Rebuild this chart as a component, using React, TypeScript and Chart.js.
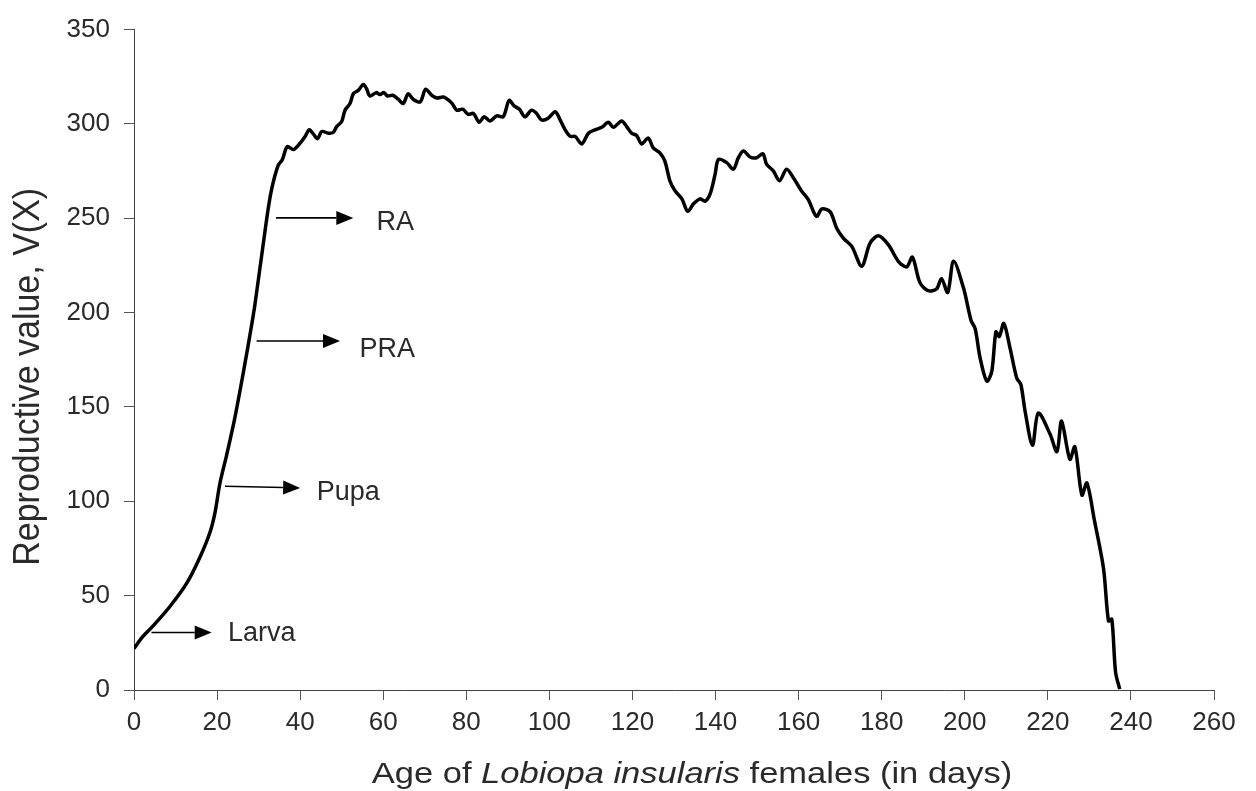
import React, { useEffect, useRef } from 'react';
import { Chart, registerables } from 'chart.js';

Chart.register(...registerables);

// ---- data ----
const AGES = [
  0, 2, 4.6, 8.7, 12.7, 15.9, 18.3, 19.5, 20.7, 22.3, 24.3, 26.3, 27.9, 29.1, 31.9, 33.1, 34.7, 35.7, 36.9, 38.4,
  40.0, 41.2, 42.2, 43.2, 44.2, 45.2, 46.8, 48.0, 48.8, 50.0, 50.8, 52.0, 52.8, 54.0, 55.2, 56.0, 56.8, 58.3, 59.2, 60.2,
  61.0, 62.3, 63.6, 64.8, 66.0, 67.2, 68.9, 70.2, 71.7, 72.9, 74.5, 75.5, 76.6, 77.7, 79.1, 80.5, 81.7, 83.1, 84.3, 85.7,
  87.3, 88.9, 90.3, 91.5, 92.8, 94.1, 95.7, 96.9, 98.1, 99.7, 101.4, 102.6, 103.8, 105.0, 106.2, 107.8, 109.4, 111.0, 112.6, 114.2,
  115.4, 117.4, 118.6, 119.8, 121.0, 122.2, 123.8, 125.0, 126.6, 127.8, 129.0, 130.2, 131.9, 133.3, 134.7, 136.3, 137.5, 138.7, 139.9, 140.7,
  142.7, 144.3, 145.5, 146.7, 148.3, 149.9, 151.4, 152.3, 153.9, 155.4, 157.1, 158.7, 160.7, 162.3, 164.3, 165.6, 167.6, 169.2, 170.8, 172.8,
  175.2, 177.2, 179.2, 181.6, 184.0, 186.0, 187.4, 189.2, 191.2, 193.2, 194.4, 195.9, 197.3, 199.7, 201.5, 202.5, 203.7, 205.3, 206.5, 207.5,
  208.3, 209.4, 210.9, 212.5, 213.5, 214.5, 216.3, 217.7, 220.5, 222.2, 223.3, 225.3, 226.5, 228.2, 229.4, 231.2, 233.4, 234.6, 235.4, 236.3,
  237.3,
];

const VALUES = [
  22, 28, 34, 44.4, 56.6, 70.5, 83.6, 94, 109.7, 124.5, 144.5, 168, 188, 204, 249, 265, 278, 281, 288, 286.4,
  289.8, 293.4, 296.9, 294.6, 292.2, 296, 295.1, 295.6, 298.6, 301.3, 307.3, 310.8, 316, 317.8, 320.9, 318.6, 314.8, 316.6, 315.6, 316.6,
  314.8, 315.2, 313.1, 310.8, 316, 313.1, 311.7, 318.4, 315.2, 313.8, 314.3, 313, 310.8, 307.3, 307.8, 305.1, 305.6, 300.9, 303.8, 301.6,
  304.3, 303.8, 312.5, 309.6, 307.8, 303.8, 307.3, 305.6, 302.1, 303, 306.5, 302.1, 296.9, 293.4, 293.4, 289.4, 295.1, 296.9, 298.2, 300.9,
  298.2, 301.6, 298.6, 295.1, 293.9, 289.4, 292.5, 287.3, 284.7, 280.3, 269.9, 264.7, 260.3, 253.7, 257.7, 260.3, 259.1, 262.9, 273.4, 281.2,
  279.5, 276, 282.1, 285.6, 282.5, 282.1, 284.2, 278.6, 275.1, 269.9, 276, 271.6, 264.5, 260, 251, 255, 253.4, 244.6, 239.4, 235.1,
  224.6, 236.8, 240.7, 236, 227.2, 224.2, 229.4, 215.9, 211.6, 212.5, 218, 210.7, 227.2, 213, 196, 191.5, 175.9, 163.7, 168.9, 189.8,
  187.3, 194.3, 181.2, 165.4, 161.9, 148, 129.7, 146.8, 135.8, 126.3, 142.5, 122.3, 128.9, 103.3, 109.7, 90, 64.4, 36.6, 37.5, 9.5,
  0.5,
];

const X_TICKS = [0, 20, 40, 60, 80, 100, 120, 140, 160, 180, 200, 220, 240, 260];
const Y_TICKS = [0, 50, 100, 150, 200, 250, 300, 350];

const STAGE_LABELS = ['Larva', 'Pupa', 'PRA', 'RA'];
const STAGE_ARROW_FROM_X = [4.2, 21.9, 29.5, 34.2];
const STAGE_ARROW_FROM_Y = [30.5, 108, 185, 250.2];
const STAGE_ARROW_TO_X = [18.7, 40.0, 49.6, 52.8];
const STAGE_ARROW_TO_Y = [30.5, 107.1, 185, 250.2];
const STAGE_LABEL_X = [22.6, 44.0, 54.3, 58.4];
const STAGE_LABEL_Y = [29.8, 104.5, 180.2, 248];

const X_TITLE_PARTS: [string, boolean][] = [
  ['Age of ', false],
  ['Lobiopa insularis', true],
  [' females (in days)', false],
];
const Y_TITLE = 'Reproductive value, V(X)';

const FAMILY = '"Liberation Sans", Arial, Helvetica, sans-serif';
const TEXT_COLOR = '#2a2a2a';

const annotatePlugin = {
  id: 'stageAnnotations',
  afterDatasetsDraw(chart: any) {
    const { ctx, scales } = chart;
    const xs = scales.x;
    const ys = scales.y;
    ctx.save();
    ctx.strokeStyle = '#000';
    ctx.fillStyle = '#000';
    ctx.lineWidth = 1.6;
    for (let i = 0; i < STAGE_LABELS.length; i++) {
      const x0 = xs.getPixelForValue(STAGE_ARROW_FROM_X[i]);
      const y0 = ys.getPixelForValue(STAGE_ARROW_FROM_Y[i]);
      const x1 = xs.getPixelForValue(STAGE_ARROW_TO_X[i]);
      const y1 = ys.getPixelForValue(STAGE_ARROW_TO_Y[i]);
      const ang = Math.atan2(y1 - y0, x1 - x0);
      const headLen = 17;
      const headHalf = 7;
      const cos = Math.cos(ang);
      const sin = Math.sin(ang);
      const bx = x1 - headLen * cos;
      const by = y1 - headLen * sin;
      ctx.beginPath();
      ctx.moveTo(x0, y0);
      ctx.lineTo(bx, by);
      ctx.stroke();
      ctx.beginPath();
      ctx.moveTo(x1, y1);
      ctx.lineTo(bx + headHalf * sin, by - headHalf * cos);
      ctx.lineTo(bx - headHalf * sin, by + headHalf * cos);
      ctx.closePath();
      ctx.fill();
    }
    ctx.fillStyle = TEXT_COLOR;
    ctx.font = `27px ${FAMILY}`;
    ctx.textAlign = 'left';
    ctx.textBaseline = 'middle';
    for (let i = 0; i < STAGE_LABELS.length; i++) {
      ctx.fillText(STAGE_LABELS[i], xs.getPixelForValue(STAGE_LABEL_X[i]), ys.getPixelForValue(STAGE_LABEL_Y[i]));
    }
    ctx.restore();
  },
  afterDraw(chart: any) {
    const { ctx, chartArea } = chart;
    ctx.save();
    ctx.fillStyle = TEXT_COLOR;
    // x axis title with italic species name
    const size = 30;
    let total = 0;
    const widths: number[] = [];
    for (const [txt, it] of X_TITLE_PARTS) {
      ctx.font = `${it ? 'italic ' : ''}${size}px ${FAMILY}`;
      const w = ctx.measureText(txt).width;
      widths.push(w);
      total += w;
    }
    const sx = 1.15;
    const cx = (chartArea.left + chartArea.right) / 2 + 18;
    ctx.translate(cx - (total * sx) / 2, 783);
    ctx.scale(sx, 1);
    ctx.textAlign = 'left';
    ctx.textBaseline = 'alphabetic';
    let px = 0;
    X_TITLE_PARTS.forEach(([txt, it], i) => {
      ctx.font = `${it ? 'italic ' : ''}${size}px ${FAMILY}`;
      ctx.fillText(txt, px, 0);
      px += widths[i];
    });
    ctx.restore();

    // y axis title
    ctx.save();
    ctx.fillStyle = TEXT_COLOR;
    ctx.translate(29, (chartArea.top + chartArea.bottom) / 2 + 17);
    ctx.rotate(-Math.PI / 2);
    ctx.scale(1, 1.08);
    ctx.font = `34px ${FAMILY}`;
    ctx.textAlign = 'center';
    ctx.textBaseline = 'middle';
    ctx.fillText(Y_TITLE, 0, 0);
    ctx.restore();
  },
};

export default function App() {
  const canvasRef = useRef<HTMLCanvasElement | null>(null);

  useEffect(() => {
    const canvas = canvasRef.current;
    if (!canvas) return;
    const points = AGES.map((a, i) => ({ x: a, y: VALUES[i] }));
    const chart = new Chart(canvas, {
      type: 'line',
      data: {
        datasets: [
          {
            label: 'Reproductive value',
            data: points,
            borderColor: '#000',
            borderWidth: 3.5,
            pointRadius: 0,
            tension: 0.3,
            fill: false,
          },
        ],
      },
      options: {
        animation: false,
        responsive: true,
        maintainAspectRatio: false,
        layout: { padding: { left: 0, right: 42, top: 20, bottom: 0 } },
        plugins: {
          legend: { display: false },
          tooltip: { enabled: false },
        },
        scales: {
          x: {
            type: 'linear',
            min: 0,
            max: 260,
            afterBuildTicks: (s: any) => {
              s.ticks = X_TICKS.map((v) => ({ value: v }));
            },
            afterFit: (s: any) => {
              s.height = 101;
            },
            grid: { drawOnChartArea: false, drawTicks: true, tickLength: 10, color: '#555', tickWidth: 1 },
            border: { display: true, color: '#444', width: 1 },
            ticks: {
              font: { size: 26, family: FAMILY },
              color: TEXT_COLOR,
              padding: 7,
              maxRotation: 0,
              minRotation: 0,
              autoSkip: false,
            },
            title: { display: false },
          },
          y: {
            type: 'linear',
            min: 0,
            max: 350,
            afterBuildTicks: (s: any) => {
              s.ticks = Y_TICKS.map((v) => ({ value: v }));
            },
            afterFit: (s: any) => {
              s.width = 134;
            },
            grid: { drawOnChartArea: false, drawTicks: true, tickLength: 10, color: '#555', tickWidth: 1 },
            border: { display: true, color: '#444', width: 1 },
            ticks: {
              font: { size: 26, family: FAMILY },
              color: TEXT_COLOR,
              padding: 14,
              autoSkip: false,
            },
            title: { display: false },
          },
        },
      },
      plugins: [annotatePlugin],
    });
    return () => chart.destroy();
  }, []);

  return (
    <div style={{ position: 'absolute', left: 0, top: 0, width: 1256, height: 791, background: '#fff' }}>
      <canvas ref={canvasRef} />
    </div>
  );
}
